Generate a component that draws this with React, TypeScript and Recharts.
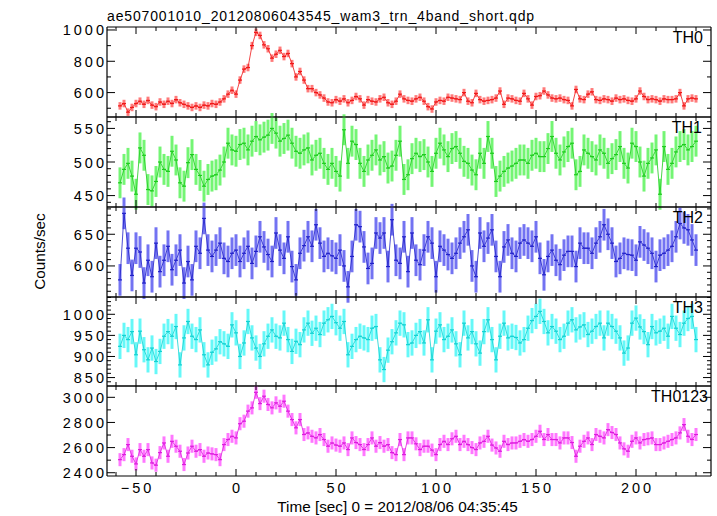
import { ComposedChart, Scatter, ErrorBar, Line, XAxis, YAxis } from "recharts";

const W = 717;
const H = 516;
const X_DOMAIN: [number, number] = [-64.5, 237.5];
const T_START = -58; // first bin centre, sec
const BIN = 2; // bin width, sec

const X_TICKS = [
  -60, -50, -40, -30, -20, -10, 0, 10, 20, 30, 40, 50, 60, 70, 80, 90, 100, 110, 120, 130, 140,
  150, 160, 170, 180, 190, 200, 210, 220, 230,
];
const X_LABELS = [-50, 0, 50, 100, 150, 200];

// count rates, 2 s bins from -58 s to 230 s
const TH0 = [
  515, 530, 475, 505, 530, 545, 525, 550, 520, 510,
  540, 525, 545, 530, 555, 535, 525, 515, 505, 515,
  505, 520, 515, 530, 525, 540, 560, 590, 615, 590,
  680, 750, 760, 900, 985, 965, 905, 880, 820, 845,
  870, 830, 850, 785, 700, 735, 680, 625, 625, 600,
  585, 565, 540, 535, 555, 545, 560, 535, 550, 575,
  560, 520, 555, 545, 540, 560, 570, 535, 525, 545,
  590, 560, 550, 545, 560, 570, 545, 510, 495, 540,
  550, 545, 570, 565, 560, 555, 600, 545, 535, 595,
  555, 545, 550, 555, 565, 610, 525, 565, 560, 550,
  545, 595, 560, 520, 575, 580, 610, 585, 565, 560,
  565, 555, 550, 515, 620, 560, 555, 590, 605, 555,
  550, 560, 555, 545, 565, 555, 560, 550, 545, 560,
  610, 575, 555, 560, 555, 545, 560, 555, 555, 560,
  600, 515, 560, 565, 560,
];
const TH1 = [
  469, 489, 498, 479, 452, 521, 510, 459, 457, 471,
  500, 489, 486, 516, 503, 469, 464, 499, 511, 489,
  480, 464, 474, 479, 481, 488, 500, 528, 518, 516,
  526, 528, 518, 531, 538, 533, 537, 540, 550, 543,
  531, 535, 540, 528, 516, 513, 518, 521, 503, 510,
  513, 498, 489, 498, 486, 479, 548, 498, 531, 526,
  498, 486, 503, 510, 518, 503, 508, 491, 494, 510,
  531, 474, 481, 505, 513, 508, 511, 500, 486, 513,
  528, 518, 508, 520, 523, 513, 501, 498, 488, 481,
  513, 498, 538, 513, 471, 479, 486, 491, 494, 498,
  503, 503, 498, 510, 513, 508, 508, 520, 538, 513,
  503, 515, 523, 528, 481, 486, 518, 513, 508, 503,
  518, 513, 498, 505, 511, 523, 498, 491, 528, 523,
  500, 479, 498, 506, 518, 452, 523, 489, 498, 515,
  523, 526, 518, 523, 531,
];
const TH2 = [
  578, 683, 628, 585, 628, 622, 573, 609, 583, 636,
  591, 609, 631, 594, 609, 625, 573, 607, 578, 631,
  620, 675, 625, 615, 625, 636, 612, 607, 620, 625,
  607, 620, 631, 604, 623, 646, 630, 618, 607, 652,
  625, 612, 646, 599, 578, 620, 632, 646, 631, 665,
  636, 615, 620, 616, 612, 625, 600, 567, 615, 665,
  662, 630, 596, 604, 652, 644, 652, 599, 673, 609,
  604, 646, 591, 652, 609, 602, 625, 646, 636, 583,
  631, 625, 618, 612, 620, 636, 646, 657, 600, 583,
  652, 631, 644, 657, 615, 583, 630, 641, 620, 615,
  636, 641, 636, 631, 646, 612, 586, 615, 625, 609,
  602, 617, 623, 623, 599, 636, 628, 628, 620, 636,
  646, 665, 650, 636, 607, 612, 620, 618, 617, 609,
  638, 633, 628, 620, 599, 617, 620, 625, 631, 646,
  667, 660, 657, 641, 625,
];
const TH3 = [
  924, 950, 940, 959, 904, 960, 916, 892, 920, 888,
  912, 948, 959, 948, 971, 880, 944, 983, 948, 940,
  963, 904, 880, 910, 918, 935, 930, 924, 975, 956,
  900, 932, 983, 944, 920, 900, 930, 948, 963, 948,
  944, 979, 940, 912, 936, 928, 963, 979, 955, 967,
  952, 979, 987, 995, 980, 967, 983, 904, 924, 940,
  948, 944, 940, 967, 971, 892, 869, 915, 935, 956,
  979, 975, 928, 932, 950, 959, 932, 987, 892, 960,
  975, 940, 948, 963, 930, 904, 979, 944, 959, 930,
  908, 959, 987, 940, 892, 948, 979, 944, 948, 945,
  932, 940, 967, 985, 995, 1007, 983, 956, 971, 960,
  940, 948, 979, 987, 963, 970, 975, 952, 960, 971,
  979, 944, 979, 971, 960, 944, 908, 920, 979, 991,
  970, 959, 928, 971, 956, 960, 967, 948, 995, 967,
  952, 979, 990, 995, 940,
];
const TH0123 = [
  2504, 2544, 2624, 2531, 2470, 2584, 2531, 2584, 2478, 2460,
  2560, 2637, 2531, 2650, 2611, 2571, 2465, 2557, 2611, 2571,
  2584, 2531, 2557, 2550, 2544, 2504, 2624, 2664, 2690, 2677,
  2790, 2810, 2890, 2916, 3040, 2950, 3009, 2943, 2916, 2956,
  2929, 2969, 2890, 2823, 2757, 2823, 2704, 2717, 2690, 2677,
  2704, 2664, 2611, 2637, 2620, 2611, 2637, 2584, 2677, 2640,
  2624, 2584, 2624, 2677, 2611, 2640, 2611, 2624, 2560, 2544,
  2664, 2544, 2677, 2677, 2630, 2584, 2611, 2611, 2580, 2544,
  2624, 2650, 2624, 2670, 2690, 2624, 2650, 2624, 2600, 2584,
  2637, 2650, 2690, 2620, 2597, 2571, 2650, 2624, 2637, 2637,
  2650, 2664, 2650, 2664, 2690, 2730, 2664, 2704, 2664, 2664,
  2637, 2677, 2677, 2640, 2531, 2611, 2650, 2677, 2624, 2704,
  2690, 2677, 2743, 2720, 2704, 2637, 2590, 2571, 2650, 2677,
  2637, 2664, 2670, 2677, 2624, 2624, 2637, 2650, 2664, 2677,
  2717, 2783, 2690, 2664, 2704,
];

const TH0_TICKS = [500, 600, 700, 800, 900, 1000];
const TH0_LABELS = [600, 800, 1000];
const TH1_TICKS = [440, 450, 460, 470, 480, 490, 500, 510, 520, 530, 540, 550, 560];
const TH1_LABELS = [450, 500, 550];
const TH2_TICKS = [560, 570, 580, 590, 600, 610, 620, 630, 640, 650, 660, 670, 680, 690];
const TH2_LABELS = [600, 650];
const TH3_TICKS = [
  840, 850, 860, 870, 880, 890, 900, 910, 920, 930, 940, 950, 960, 970, 980, 990, 1000, 1010,
  1020, 1030, 1040,
];
const TH3_LABELS = [850, 900, 950, 1000];
const TH0123_TICKS = [2400, 2500, 2600, 2700, 2800, 2900, 3000];
const TH0123_LABELS = [2400, 2600, 2800, 3000];

const panels = [
  { name: "TH0", values: TH0, err: 24, domain: [444, 1019], ticks: TH0_TICKS, labels: TH0_LABELS,
    bar: "#ff7a7a", line: "#f01818", top: 27, bottom: 117, nameX: 703 },
  { name: "TH1", values: TH1, err: 23, domain: [433, 567], ticks: TH1_TICKS, labels: TH1_LABELS,
    bar: "#74f574", line: "#1ecc1e", top: 117, bottom: 207, nameX: 702 },
  { name: "TH2", values: TH2, err: 25, domain: [551, 693], ticks: TH2_TICKS, labels: TH2_LABELS,
    bar: "#7373f2", line: "#2222c8", top: 207, bottom: 297, nameX: 703 },
  { name: "TH3", values: TH3, err: 30, domain: [830, 1041], ticks: TH3_TICKS, labels: TH3_LABELS,
    bar: "#66f8f8", line: "#14d2d2", top: 297, bottom: 386, nameX: 703 },
  { name: "TH0123", values: TH0123, err: 52, domain: [2374, 3090], ticks: TH0123_TICKS,
    labels: TH0123_LABELS, bar: "#ff77ff", line: "#dd1cdd", top: 386, bottom: 476, nameX: 708 },
];

const FONT = "'Liberation Sans', Arial, Helvetica, sans-serif";
const tickText = { fontFamily: FONT, fontSize: 14.5, letterSpacing: 3 };

const leftTick = (labels: number[]) => (props: any) => {
  const { x, y, payload } = props;
  const major = labels.includes(payload.value);
  return (
    <g>
      <line x1={x} y1={y} x2={x + (major ? 8 : 4)} y2={y} stroke="#000" />
      {major && (
        <text x={x} y={y + 5.5} textAnchor="end" fill="#000" style={tickText}>
          {payload.value}
        </text>
      )}
    </g>
  );
};

const rightTick = (labels: number[]) => (props: any) => {
  const { x, y, payload } = props;
  const len = labels.includes(payload.value) ? 8 : 4;
  return <line x1={x} y1={y} x2={x - len} y2={y} stroke="#000" />;
};

const topTick = (props: any) => {
  const { x, y, payload } = props;
  const len = X_LABELS.includes(payload.value) ? 7 : 4;
  return <line x1={x} y1={y} x2={x} y2={y + len} stroke="#000" />;
};

const bottomTick = (withText: boolean) => (props: any) => {
  const { x, y, payload } = props;
  const major = X_LABELS.includes(payload.value);
  return (
    <g>
      <line x1={x} y1={y} x2={x} y2={y - (major ? 7 : 4)} stroke="#000" />
      {withText && major && (
        <text x={x + 1.5} y={y + 16.5} textAnchor="middle" fill="#000" style={tickText}>
          {payload.value < 0 ? "\u2212" + Math.abs(payload.value) : payload.value}
        </text>
      )}
    </g>
  );
};

const Panel = ({ p, last }: { p: (typeof panels)[number]; last: boolean }) => {
  const rows = p.values.map((v, i) => ({ t: T_START + i * BIN, v, ey: p.err, ex: BIN / 2 }));
  const axisLine = { stroke: "#000", strokeWidth: 1.2 };
  return (
    <div style={{ position: "absolute", left: 0, top: 0 }}>
      <ComposedChart width={W} height={H} data={rows} margin={{ top: 0, right: 0, bottom: 0, left: 0 }}>
        <XAxis xAxisId="b" dataKey="t" type="number" orientation="bottom" domain={X_DOMAIN}
          allowDataOverflow height={H - p.bottom} ticks={X_TICKS} interval={0} tickSize={0}
          tickMargin={0} tickLine={false} axisLine={axisLine} tick={bottomTick(last)} />
        <XAxis xAxisId="t" dataKey="t" type="number" orientation="top" domain={X_DOMAIN}
          allowDataOverflow height={p.top} ticks={X_TICKS} interval={0} tickSize={0}
          tickMargin={0} tickLine={false} axisLine={axisLine} tick={topTick} />
        <YAxis yAxisId="l" dataKey="v" type="number" orientation="left" domain={p.domain}
          allowDataOverflow width={107} ticks={p.ticks} interval={0} tickSize={0}
          tickMargin={0} tickLine={false} axisLine={axisLine} tick={leftTick(p.labels)} />
        <YAxis yAxisId="r" dataKey="v" type="number" orientation="right" domain={p.domain}
          allowDataOverflow width={6} ticks={p.ticks} interval={0} tickSize={0}
          tickMargin={0} tickLine={false} axisLine={axisLine} tick={rightTick(p.labels)} />
        <Scatter xAxisId="b" yAxisId="l" dataKey="v" isAnimationActive={false} shape={() => <g />}>
          <ErrorBar dataKey="ey" direction="y" width={0} stroke={p.bar} strokeWidth={3} />
          <ErrorBar dataKey="ex" direction="x" width={0} stroke={p.line} strokeWidth={1.2} />
        </Scatter>
        <Line xAxisId="b" yAxisId="l" dataKey="v" type="linear" stroke={p.line} strokeWidth={1}
          strokeOpacity={0.8} dot={false} activeDot={false} isAnimationActive={false} />
        <Scatter xAxisId="t" yAxisId="r" dataKey="v" isAnimationActive={false} shape={() => <g />} />
      </ComposedChart>
    </div>
  );
};

export default function App() {
  return (
    <div style={{ position: "absolute", left: 0, top: 0, width: W, height: H, background: "#fff" }}>
      {panels.map((p, i) => (
        <Panel key={p.name} p={p} last={i === panels.length - 1} />
      ))}
      <svg width={W} height={H} style={{ position: "absolute", left: 0, top: 0, pointerEvents: "none" }}>
        <text x={107} y={20.5} fontFamily={FONT} fontSize={14} letterSpacing={0.85} fill="#000">
          ae507001010_20120806043545_wam3_trn_4band_short.qdp
        </text>
        {panels.map((p) => (
          <text key={p.name} x={p.nameX} y={p.top + 16.3} textAnchor="end" fontFamily={FONT}
            fontSize={16} fill="#000">
            {p.name}
          </text>
        ))}
        <text x={397.5} y={511.5} textAnchor="middle" fontFamily={FONT} fontSize={15.3} fill="#000">
          Time [sec] 0 = 2012/08/06 04:35:45
        </text>
        <text x={45} y={251.5} textAnchor="middle" fontFamily={FONT} fontSize={15.3} fill="#000"
          transform="rotate(-90 45 251.5)">
          Counts/sec
        </text>
      </svg>
    </div>
  );
}
